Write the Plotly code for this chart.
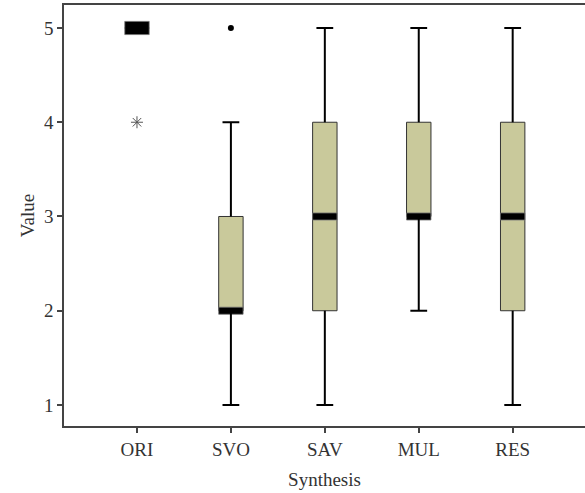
import plotly.graph_objects as go

# ---- data ----
categories = ["ORI", "SVO", "SAV", "MUL", "RES"]
q1 = [5, 2, 2, 3, 2]
median = [5, 2, 3, 3, 3]
q3 = [5, 3, 4, 4, 4]
lower_whisker = [5, 1, 1, 2, 1]
upper_whisker = [5, 4, 5, 5, 5]
outlier_dot_x = ["SVO"]
outlier_dot_y = [5]
outlier_star_x = ["ORI"]
outlier_star_y = [4]
y_ticks = [1, 2, 3, 4, 5]

# ---- styling ----
box_fill = "#c9c99b"
box_width = 0.26
median_thickness = [0.14, 0.075, 0.075, 0.075, 0.075]
font_family = "Liberation Serif, Times New Roman, serif"
axis_color = "#444444"
fsize = 19

fig = go.Figure()

# boxes (q1..q3)
fig.add_trace(go.Bar(
    x=categories,
    y=[b - a for a, b in zip(q1, q3)],
    base=q1,
    width=box_width,
    marker=dict(color=box_fill, line=dict(color="#333333", width=1)),
    hoverinfo="skip",
))

# medians as thick black bars
fig.add_trace(go.Bar(
    x=categories,
    y=median_thickness,
    base=[m - t / 2 for m, t in zip(median, median_thickness)],
    width=box_width,
    marker=dict(color="black", line=dict(color="#777777", width=0.8)),
    hoverinfo="skip",
))

# whiskers
wx, wy = [], []
cap_x, cap_y = [], []
for c, a, b, lo, hi in zip(categories, q1, q3, lower_whisker, upper_whisker):
    if lo < a:
        wx += [c, c, None]
        wy += [lo, a, None]
        cap_x.append(c)
        cap_y.append(lo)
    if hi > b:
        wx += [c, c, None]
        wy += [b, hi, None]
        cap_x.append(c)
        cap_y.append(hi)

fig.add_trace(go.Scatter(
    x=wx, y=wy, mode="lines",
    line=dict(color="black", width=2),
    hoverinfo="skip",
))
fig.add_trace(go.Scatter(
    x=cap_x, y=cap_y, mode="markers",
    marker=dict(symbol="line-ew", size=12, color="black", line=dict(color="black", width=2)),
    hoverinfo="skip",
))

# outliers
fig.add_trace(go.Scatter(
    x=outlier_dot_x, y=outlier_dot_y, mode="markers",
    marker=dict(symbol="circle", size=6, color="black"),
    hoverinfo="skip",
))
fig.add_trace(go.Scatter(
    x=outlier_star_x, y=outlier_star_y, mode="markers",
    marker=dict(symbol="asterisk-open", size=10, color="#555555",
                line=dict(color="#555555", width=1)),
    hoverinfo="skip",
))

fig.update_layout(
    width=585, height=493,
    margin=dict(l=64, r=0, t=5, b=67, autoexpand=False),
    plot_bgcolor="white", paper_bgcolor="white",
    barmode="overlay",
    showlegend=False,
    font=dict(family=font_family, size=fsize, color="#333333"),
    xaxis=dict(
        type="category",
        categoryorder="array", categoryarray=categories,
        range=[-0.777, 4.77],
        automargin=False,
        showline=True, linecolor=axis_color, linewidth=1.5, mirror=True,
        ticks="outside", ticklen=5, tickcolor=axis_color, tickwidth=1.5,
        tickfont=dict(size=fsize),
        showgrid=False, zeroline=False,
        title=dict(text="Synthesis", standoff=14, font=dict(size=fsize)),
    ),
    yaxis=dict(
        range=[0.777, 5.244],
        tickvals=y_ticks,
        automargin=False,
        showline=True, linecolor=axis_color, linewidth=1.5,
        ticks="outside", ticklen=5, tickcolor=axis_color, tickwidth=1.5,
        tickfont=dict(size=fsize),
        showgrid=False, zeroline=False,
        title=dict(text="Value", standoff=4, font=dict(size=fsize)),
    ),
)

fig.write_html("out.html", config={"displayModeBar": False},
               post_script="document.body.style.margin='0';")
